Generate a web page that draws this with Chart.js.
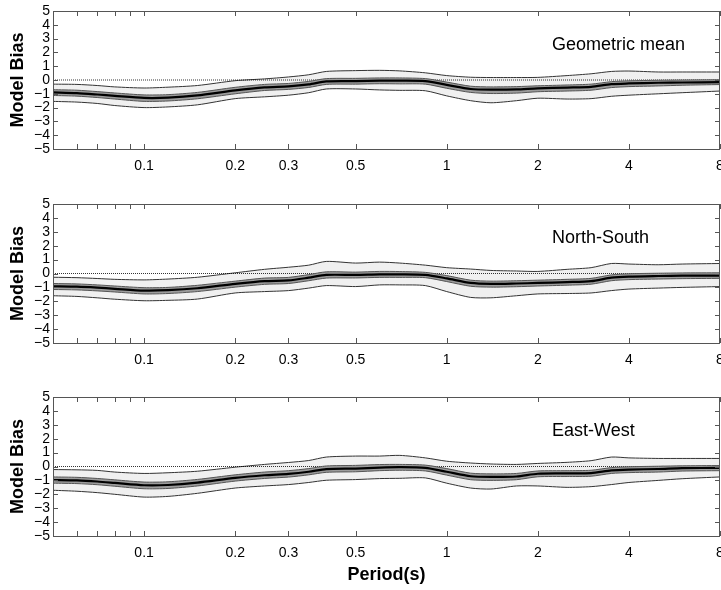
<!DOCTYPE html>
<html>
<head>
<meta charset="utf-8">
<script src="https://cdn.jsdelivr.net/npm/chart.js@4.4.0/dist/chart.umd.min.js"></script>
<style>
  body { margin: 0; background: #fff; }
  canvas { position: absolute; left: 0; }
</style>
</head>
<body>
<canvas id="panel1" width="721" height="190" style="top:0px"></canvas>
<canvas id="panel2" width="721" height="190" style="top:193px"></canvas>
<canvas id="panel3" width="721" height="204" style="top:386px"></canvas>
<script>
const periods = [0.05, 0.06, 0.07, 0.08, 0.1, 0.12, 0.15, 0.2, 0.25, 0.3, 0.35, 0.4, 0.5, 0.6, 0.7, 0.85, 1.0, 1.2, 1.4, 1.7, 2.0, 2.5, 3.0, 3.5, 4.0, 5.0, 6.0, 8.0];

// axis ticks
const x_min = 0.05;
const x_max = 8;
const x_ticks = [0.06, 0.07, 0.08, 0.09, 0.1, 0.2, 0.3, 0.5, 1, 2, 4, 8];
const x_labels = [0.1, 0.2, 0.3, 0.5, 1, 2, 4, 8];
const y_ticks = [-5, -4, -3, -2, -1, 0, 1, 2, 3, 4, 5];

// Geometric mean
const gm_median   = [-0.9, -0.95, -1.05, -1.15, -1.3, -1.28, -1.12, -0.75, -0.53, -0.46, -0.32, -0.1, -0.08, -0.05, -0.05, -0.08, -0.35, -0.65, -0.7, -0.68, -0.6, -0.55, -0.5, -0.3, -0.25, -0.2, -0.18, -0.15];
const gm_inner_hi = [-0.7, -0.74, -0.84, -0.94, -1.08, -1.06, -0.9, -0.53, -0.32, -0.25, -0.1, 0.1, 0.12, 0.15, 0.15, 0.1, -0.15, -0.45, -0.5, -0.48, -0.42, -0.36, -0.3, -0.12, -0.06, -0.02, 0.0, 0.02];
const gm_inner_lo = [-1.12, -1.17, -1.27, -1.38, -1.55, -1.52, -1.36, -1.0, -0.76, -0.68, -0.54, -0.32, -0.3, -0.27, -0.28, -0.3, -0.6, -0.9, -0.98, -0.95, -0.85, -0.8, -0.74, -0.55, -0.48, -0.43, -0.38, -0.33];
const gm_outer_hi = [-0.3, -0.32, -0.4, -0.5, -0.58, -0.52, -0.4, -0.05, 0.08, 0.22, 0.38, 0.62, 0.68, 0.7, 0.66, 0.52, 0.32, 0.2, 0.18, 0.18, 0.19, 0.32, 0.45, 0.62, 0.65, 0.58, 0.58, 0.58];
const gm_outer_lo = [-1.55, -1.6, -1.7, -1.85, -2.0, -1.95, -1.8, -1.35, -1.22, -1.1, -0.92, -0.65, -0.65, -0.72, -0.75, -0.78, -1.15, -1.5, -1.65, -1.5, -1.32, -1.38, -1.35, -1.18, -1.1, -1.0, -0.92, -0.8];

// North-South
const ns_median   = [-0.92, -0.95, -1.02, -1.1, -1.23, -1.2, -1.06, -0.75, -0.55, -0.5, -0.3, -0.1, -0.1, -0.06, -0.06, -0.1, -0.35, -0.68, -0.75, -0.72, -0.68, -0.62, -0.55, -0.3, -0.22, -0.18, -0.16, -0.15];
const ns_inner_hi = [-0.72, -0.75, -0.82, -0.9, -1.02, -1.0, -0.85, -0.55, -0.33, -0.28, -0.08, 0.12, 0.1, 0.15, 0.14, 0.08, -0.15, -0.48, -0.55, -0.52, -0.48, -0.42, -0.35, -0.1, -0.02, 0.02, 0.04, 0.05];
const ns_inner_lo = [-1.15, -1.18, -1.25, -1.33, -1.47, -1.44, -1.3, -0.98, -0.78, -0.72, -0.52, -0.33, -0.32, -0.28, -0.28, -0.3, -0.58, -0.92, -0.98, -0.95, -0.9, -0.84, -0.77, -0.52, -0.44, -0.4, -0.37, -0.35];
const ns_outer_hi = [-0.27, -0.3, -0.36, -0.42, -0.46, -0.4, -0.27, 0.05, 0.3, 0.45, 0.6, 0.87, 0.75, 0.82, 0.75, 0.6, 0.42, 0.32, 0.22, 0.18, 0.15, 0.3, 0.42, 0.72, 0.68, 0.63, 0.68, 0.72];
const ns_outer_lo = [-1.6, -1.65, -1.75, -1.85, -1.96, -1.93, -1.84, -1.4, -1.3, -1.23, -1.05, -0.87, -0.94, -0.82, -0.82, -0.87, -1.3, -1.72, -1.75, -1.6, -1.47, -1.44, -1.4, -1.23, -1.12, -1.05, -1.0, -0.94];

// East-West
const ew_median   = [-0.97, -1.0, -1.08, -1.18, -1.35, -1.33, -1.16, -0.82, -0.63, -0.53, -0.38, -0.19, -0.15, -0.08, -0.05, -0.1, -0.38, -0.7, -0.75, -0.72, -0.52, -0.5, -0.48, -0.28, -0.22, -0.18, -0.12, -0.1];
const ew_inner_hi = [-0.75, -0.78, -0.86, -0.96, -1.12, -1.1, -0.93, -0.6, -0.4, -0.3, -0.15, 0.04, 0.08, 0.14, 0.15, 0.1, -0.15, -0.48, -0.53, -0.5, -0.32, -0.3, -0.27, -0.08, -0.02, 0.02, 0.05, 0.07];
const ew_inner_lo = [-1.2, -1.23, -1.31, -1.42, -1.6, -1.58, -1.4, -1.05, -0.86, -0.76, -0.6, -0.42, -0.38, -0.3, -0.27, -0.32, -0.62, -0.95, -1.0, -0.95, -0.74, -0.72, -0.7, -0.5, -0.44, -0.4, -0.33, -0.3];
const ew_outer_hi = [-0.22, -0.24, -0.28, -0.4, -0.5, -0.45, -0.34, -0.05, 0.15, 0.29, 0.43, 0.68, 0.75, 0.75, 0.8, 0.62, 0.38, 0.25, 0.18, 0.15, 0.22, 0.3, 0.42, 0.68, 0.62, 0.58, 0.58, 0.58];
const ew_outer_lo = [-1.71, -1.78, -1.88, -2.0, -2.2, -2.15, -1.93, -1.55, -1.4, -1.3, -1.15, -0.99, -0.94, -0.87, -0.85, -0.82, -1.2, -1.55, -1.62, -1.4, -1.4, -1.5, -1.45, -1.3, -1.15, -1.0, -0.88, -0.75];

Chart.defaults.font.family = "'Liberation Sans', Arial, Helvetica, sans-serif";
Chart.defaults.color = "#000";

function to_points(values) {
  return periods.map((p, i) => ({ x: p, y: values[i] }));
}

// frame, inward ticks on all four sides, and the panel name
const frame_ticks = {
  id: "frame_ticks",
  afterDatasetsDraw(chart, args, opts) {
    let ctx = chart.ctx;
    let a = chart.chartArea;
    let xs = chart.scales.x;
    let ys = chart.scales.y;
    ctx.save();
    ctx.strokeStyle = "#555";
    ctx.lineWidth = 1;
    ctx.beginPath();
    for (let v of x_ticks) {
      let px = Math.round(xs.getPixelForValue(v)) + 0.5;
      ctx.moveTo(px, a.top);
      ctx.lineTo(px, a.top + 5);
      ctx.moveTo(px, a.bottom);
      ctx.lineTo(px, a.bottom - 5);
    }
    for (let v of y_ticks) {
      let py = Math.round(ys.getPixelForValue(v)) + 0.5;
      ctx.moveTo(a.left, py);
      ctx.lineTo(a.left + 5, py);
      ctx.moveTo(a.right, py);
      ctx.lineTo(a.right - 5, py);
    }
    ctx.stroke();
    ctx.strokeRect(Math.round(a.left) + 0.5, Math.round(a.top) + 0.5, Math.round(a.right - a.left) - 1, Math.round(a.bottom - a.top));
    ctx.fillStyle = "#000";
    ctx.font = "18px 'Liberation Sans', Arial, sans-serif";
    ctx.textBaseline = "middle";
    ctx.fillText(opts.text, a.left + 499, a.top + 34);
    ctx.restore();
  }
};

function make_panel(canvas_id, name, median, inner_hi, inner_lo, outer_hi, outer_lo, x_height, show_x_title) {
  let ctx = document.getElementById(canvas_id).getContext("2d");
  let line_base = { pointRadius: 0, tension: 0.25 };
  return new Chart(ctx, {
    type: "line",
    data: {
      datasets: [
        Object.assign({ data: to_points(outer_hi), borderColor: "#333", borderWidth: 1, fill: "+1", backgroundColor: "#f0f0f0", order: 6 }, line_base),
        Object.assign({ data: to_points(outer_lo), borderColor: "#333", borderWidth: 1, fill: false, order: 5 }, line_base),
        { data: [{ x: x_min, y: 0 }, { x: x_max, y: 0 }], borderColor: "#000", borderWidth: 0.8, borderDash: [1, 1], pointRadius: 0, fill: false, order: 4 },
        Object.assign({ data: to_points(inner_hi), borderColor: "#555", borderWidth: 1, fill: "+1", backgroundColor: "#9c9c9c", order: 3 }, line_base),
        Object.assign({ data: to_points(inner_lo), borderColor: "#555", borderWidth: 1, fill: false, order: 2 }, line_base),
        Object.assign({ data: to_points(median), borderColor: "#000", borderWidth: 2.2, fill: false, order: 1 }, line_base),
      ],
    },
    options: {
      responsive: false,
      animation: false,
      layout: { padding: { left: 0, right: 1, top: 11, bottom: 0 } },
      plugins: {
        legend: { display: false },
        tooltip: { enabled: false },
        frame_ticks: { text: name },
      },
      scales: {
        x: {
          type: "logarithmic",
          min: x_min,
          max: x_max,
          grid: { display: false, drawTicks: false },
          border: { display: false },
          afterBuildTicks: (scale) => { scale.ticks = x_ticks.map((v) => ({ value: v })); },
          afterFit: (scale) => { scale.height = x_height; scale.paddingLeft = 0; scale.paddingRight = 0; },
          ticks: {
            autoSkip: false,
            maxRotation: 0,
            padding: 9,
            font: { size: 14 },
            callback: (value) => (x_labels.includes(value) ? String(value) : ""),
          },
          title: {
            display: show_x_title,
            text: "Period(s)",
            font: { size: 18, weight: "bold" },
            padding: { top: 0, bottom: 4 },
          },
        },
        y: {
          min: -5,
          max: 5,
          grid: { display: false, drawTicks: false },
          border: { display: false },
          afterBuildTicks: (scale) => { scale.ticks = y_ticks.map((v) => ({ value: v })); },
          afterFit: (scale) => { scale.width = 53; scale.paddingTop = 0; scale.paddingBottom = 0; },
          ticks: {
            autoSkip: false,
            padding: 3,
            font: { size: 14 },
            callback: (value) => (value < 0 ? "\u2212" + Math.abs(value) : String(value)),
          },
          title: {
            display: true,
            text: "Model Bias",
            font: { size: 18, weight: "bold" },
            padding: { top: 7, bottom: 0 },
          },
        },
      },
    },
    plugins: [frame_ticks],
  });
}

make_panel("panel1", "Geometric mean", gm_median, gm_inner_hi, gm_inner_lo, gm_outer_hi, gm_outer_lo, 41, false);
make_panel("panel2", "North-South", ns_median, ns_inner_hi, ns_inner_lo, ns_outer_hi, ns_outer_lo, 40, false);
make_panel("panel3", "East-West", ew_median, ew_inner_hi, ew_inner_lo, ew_outer_hi, ew_outer_lo, 54, true);
</script>
</body>
</html>
